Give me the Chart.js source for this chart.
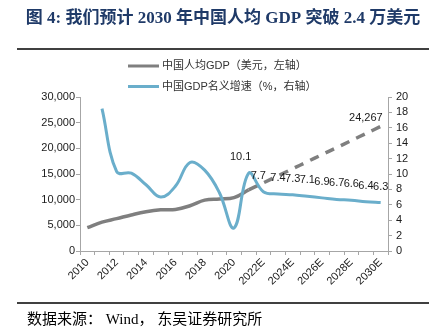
<!DOCTYPE html>
<html>
<head>
<meta charset="utf-8">
<script src="https://cdn.jsdelivr.net/npm/chart.js@4.4.0/dist/chart.umd.min.js"></script>
<style>
  html, body { margin: 0; padding: 0; background: #fff; }
  canvas { display: block; }
</style>
</head>
<body>
<canvas id="chart-gdp" width="441" height="333"></canvas>
<script>
const COLORS = {
    gdp: '#7f7f7f',
    growth: '#6aaecb',
    title: '#1f3a68',
    text: '#1a1a1a',
    axis: '#a6a6a6'
};

const FONT_SANS = '"Liberation Sans", Arial, "Noto Sans CJK SC", sans-serif';
const FONT_SERIF = '"Liberation Serif", "Times New Roman", "Noto Sans CJK SC", serif';

const years = ['2010', '2011', '2012', '2013', '2014', '2015', '2016', '2017', '2018', '2019', '2020',
    '2021', '2022E', '2023E', '2024E', '2025E', '2026E', '2027E', '2028E', '2029E', '2030E'];

// GDP per capita, USD (left axis)
const gdpPerCapita = [4550, 5614, 6301, 7020, 7636, 8016, 8094, 8817, 9905, 10144, 10408,
    11900, 13270, 14650, 16020, 17400, 18770, 20140, 21520, 22890, 24267];

// nominal GDP growth, % (right axis)
const nominalGrowth = [null, 18.5, 10.3, 10.1, 8.6, 7.0, 8.4, 11.5, 10.5, 7.6, 3.0,
    10.1, 7.7, 7.4, 7.3, 7.1, 6.9, 6.7, 6.6, 6.4, 6.3];

const forecastFrom = 11; // dashed from here on, growth labels too
const gdpTicks = [0, 5000, 10000, 15000, 20000, 25000, 30000];
const growthTicks = [0, 2, 4, 6, 8, 10, 12, 14, 16, 18, 20];

const titleText = '图 4: 我们预计 2030 年中国人均 GDP 突破 2.4 万美元';
const sourceText = '数据来源： Wind， 东吴证券研究所';
const legendLabels = ['中国人均GDP（美元，左轴）', '中国GDP名义增速（%，右轴）'];

// page furniture: title, rules, legend, source line
const frame = {
    id: 'frame',
    beforeDraw(chart) {
        const c = chart.ctx;
        c.save();
        c.fillStyle = '#fff';
        c.fillRect(0, 0, chart.width, chart.height);
        c.restore();
    },
    afterDraw(chart) {
        const c = chart.ctx;
        c.save();
        c.fillStyle = COLORS.title;
        c.font = 'bold 17px ' + FONT_SERIF;
        c.textAlign = 'center';
        c.textBaseline = 'middle';
        c.fillText(titleText, 223, 19);

        c.strokeStyle = '#000';
        c.lineWidth = 1.5;
        [49, 303].forEach(y => {
            c.beginPath();
            c.moveTo(17, y);
            c.lineTo(429, y);
            c.stroke();
        });

        const swatch = [COLORS.gdp, COLORS.growth];
        c.font = '11px ' + FONT_SANS;
        c.textAlign = 'left';
        c.lineWidth = 3;
        legendLabels.forEach((t, i) => {
            const y = 66 + i * 20.5;
            c.strokeStyle = swatch[i];
            c.beginPath();
            c.moveTo(128, y);
            c.lineTo(159, y);
            c.stroke();
            c.fillStyle = '#333';
            c.fillText(t, 162, y);
        });

        c.fillStyle = '#000';
        c.font = '15px ' + FONT_SERIF;
        c.fillText(sourceText, 27, 320);
        c.restore();
    }
};

// value labels on the forecast part
const valueLabels = {
    id: 'valueLabels',
    afterDatasetsDraw(chart) {
        const c = chart.ctx;
        c.save();
        c.fillStyle = COLORS.text;
        c.font = '11px ' + FONT_SANS;
        c.textBaseline = 'middle';
        c.textAlign = 'center';
        const growthMeta = chart.getDatasetMeta(1);
        nominalGrowth.forEach((v, i) => {
            if (i < forecastFrom || v === null) return;
            const p = growthMeta.data[i];
            const nudge = i === forecastFrom ? -8 : (i === forecastFrom + 1 ? -5 : 0);
            c.fillText(v.toFixed(1), p.x + nudge, p.y - 16);
        });
        const gdpMeta = chart.getDatasetMeta(0);
        const last = gdpPerCapita.length - 1;
        const p = gdpMeta.data[last];
        c.textAlign = 'right';
        c.textBaseline = 'bottom';
        c.fillText(gdpPerCapita[last].toLocaleString('en-US'), p.x + 2, p.y - 3);
        c.restore();
    }
};

const tickFont = { family: FONT_SANS, size: 11 };

new Chart(document.getElementById('chart-gdp'), {
    type: 'line',
    data: {
        labels: years,
        datasets: [
            {
                label: legendLabels[0],
                data: gdpPerCapita,
                yAxisID: 'y',
                borderColor: COLORS.gdp,
                borderWidth: 3.5,
                pointRadius: 0,
                tension: 0.4,
                order: 1,
                segment: {
                    borderDash: ctx => ctx.p0DataIndex >= forecastFrom ? [10, 7] : undefined
                }
            },
            {
                label: legendLabels[1],
                data: nominalGrowth,
                yAxisID: 'y1',
                borderColor: COLORS.growth,
                borderWidth: 3,
                pointRadius: 0,
                tension: 0.4,
                order: 0
            }
        ]
    },
    options: {
        responsive: false,
        animation: false,
        layout: { padding: { top: 97, left: 0, right: 0, bottom: 0 } },
        plugins: {
            legend: { display: false },
            title: { display: false },
            tooltip: { enabled: false }
        },
        scales: {
            x: {
                offset: true,
                grid: { offset: true, drawOnChartArea: false, drawTicks: true, tickLength: 4, color: COLORS.axis },
                border: { display: true, color: COLORS.axis, width: 1 },
                ticks: {
                    autoSkip: false,
                    minRotation: 45,
                    maxRotation: 45,
                    padding: 1,
                    color: COLORS.text,
                    font: tickFont,
                    callback: (v, i) => i % 2 === 0 ? years[i] : ''
                },
                afterFit: s => { s.height = 82; }
            },
            y: {
                position: 'left',
                min: 0,
                max: 30000,
                afterBuildTicks: s => { s.ticks = gdpTicks.map(v => ({ value: v })); },
                grid: { drawOnChartArea: false, drawTicks: true, tickLength: 4, color: COLORS.axis },
                border: { display: true, color: COLORS.axis, width: 1 },
                ticks: {
                    autoSkip: false,
                    padding: 1,
                    color: COLORS.text,
                    font: tickFont,
                    callback: v => v.toLocaleString('en-US')
                },
                afterFit: s => { s.width = 80; }
            },
            y1: {
                position: 'right',
                min: 0,
                max: 20,
                afterBuildTicks: s => { s.ticks = growthTicks.map(v => ({ value: v })); },
                grid: { drawOnChartArea: false, drawTicks: true, tickLength: 4, color: COLORS.axis },
                border: { display: true, color: COLORS.axis, width: 1 },
                ticks: {
                    autoSkip: false,
                    padding: 4,
                    color: COLORS.text,
                    font: tickFont
                },
                afterFit: s => { s.width = 53; }
            }
        }
    },
    plugins: [frame, valueLabels]
});
</script>
</body>
</html>
